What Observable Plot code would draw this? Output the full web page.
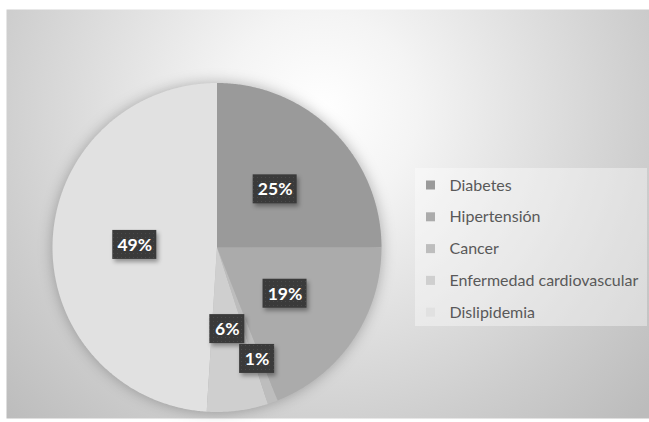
<!DOCTYPE html>
<html><head><meta charset="utf-8">
<script src="https://cdn.jsdelivr.net/npm/d3@7"></script>
<script src="https://cdn.jsdelivr.net/npm/@observablehq/plot@0.6"></script>
<style>
body{margin:0;background:#fff;}
#chart{width:649px;height:422px;}
</style>
</head><body><div id="chart"></div>
<script>
// ---- data ----
const categories = ["Diabetes", "Hipertensión", "Cancer", "Enfermedad cardiovascular", "Dislipidemia"];
const values = [25, 19, 1, 6, 49];
const labels = ["25%", "19%", "1%", "6%", "49%"];
const colors = ["#9a9a9a", "#ababab", "#bdbdbd", "#cfcfcf", "#e1e1e1"];

// ---- layout ----
const W = 649, H = 422;
const cx = 216.5, cy = 247, R = 164.5;
const px2x = p => (p - cx) / R;
const px2y = p => (cy - p) / R;

const total = d3.sum(values);
const slices = [];
const labelData = [];
let cum = 0;
values.forEach((v, i) => {
  const a0 = cum / total * 2 * Math.PI;
  cum += v;
  const a1 = cum / total * 2 * Math.PI;
  slices.push({x: 0, y: 0, cat: categories[i]});
  const n = Math.max(2, Math.ceil((a1 - a0) / (Math.PI / 360)));
  for (let k = 0; k <= n; k++) {
    const a = a0 + (a1 - a0) * k / n;
    slices.push({x: Math.sin(a), y: Math.cos(a), cat: categories[i]});
  }
  slices.push({x: 0, y: 0, cat: categories[i]});
  const am = (a0 + a1) / 2;
  const share = v / total;
  const lr = share < 0.03 ? 0.72 : 0.5;
  const hw = (labels[i].length <= 2 ? 17.5 : 22) / R;
  const hh = 14.5 / R;
  const lx = lr * Math.sin(am), ly = lr * Math.cos(am);
  labelData.push({x: lx, y: ly, text: labels[i], x1: lx - hw, x2: lx + hw, y1: ly - hh, y2: ly + hh});
});

const legendData = categories.map((c, i) => {
  const py = 185 + i * 31.8;
  return {cat: c, x1: px2x(426), x2: px2x(435), y1: px2y(py - 4.5), y2: px2y(py + 4.5), tx: px2x(449), ty: px2y(py)};
});

const font = "Lato, 'Open Sans', sans-serif";

const chart = Plot.plot({
  width: W, height: H,
  marginLeft: 6, marginTop: 9, marginRight: 0, marginBottom: 4,
  x: {domain: [-1, 1], range: [cx - R, cx + R], axis: null},
  y: {domain: [-1, 1], range: [cy + R, cy - R], axis: null},
  color: {domain: categories, range: colors},
  style: {fontFamily: font, background: "white"},
  marks: [
    Plot.frame({fill: "url(#bgGrad)", stroke: "none"}),
    Plot.line(slices, {x: "x", y: "y", z: "cat", fill: "cat", stroke: "none", curve: "linear"}),
    Plot.rect(labelData, {x1: "x1", x2: "x2", y1: "y1", y2: "y2", fill: "url(#dotPat)"}),
    Plot.text(labelData, {x: "x", y: "y", text: "text", fill: "white", fontWeight: "bold", fontSize: 17.5, dy: 0.5}),
    Plot.rect([0], {x1: px2x(415), x2: px2x(647), y1: px2y(326), y2: px2y(168), fill: "white", fillOpacity: 0.38}),
    Plot.rect(legendData, {x1: "x1", x2: "x2", y1: "y1", y2: "y2", fill: "cat"}),
    Plot.text(legendData, {x: "tx", y: "ty", text: "cat", textAnchor: "start", fill: "#595959", fontSize: 16})
  ]
});

// defs: background gradient and dotted label fill
const svg = d3.select(chart);
const defs = svg.insert("defs", ":first-child");
const g = defs.append("radialGradient").attr("id", "bgGrad").attr("gradientUnits", "userSpaceOnUse")
  .attr("cx", 320).attr("cy", 110).attr("r", 440);
[[0, "#ffffff"], [0.22, "#f4f4f4"], [0.75, "#cdcdcd"], [1, "#bcbcbc"]].forEach(([o, c]) =>
  g.append("stop").attr("offset", o).attr("stop-color", c));
const pat = defs.append("pattern").attr("id", "dotPat").attr("patternUnits", "userSpaceOnUse")
  .attr("width", 4).attr("height", 4);
pat.append("rect").attr("width", 4).attr("height", 4).attr("fill", "#3a3a3a");
pat.append("rect").attr("x", 1).attr("y", 1).attr("width", 1).attr("height", 1).attr("fill", "#4a4a4a");

svg.selectAll("g[aria-label='line']").style("filter", "drop-shadow(0px 0px 7px rgba(0,0,0,0.28))");
svg.selectAll("g[aria-label='rect']").filter((d, i) => i === 0)
  .style("filter", "drop-shadow(2px 3px 2px rgba(0,0,0,0.35))");

document.getElementById("chart").appendChild(chart);
</script>
</body></html>
